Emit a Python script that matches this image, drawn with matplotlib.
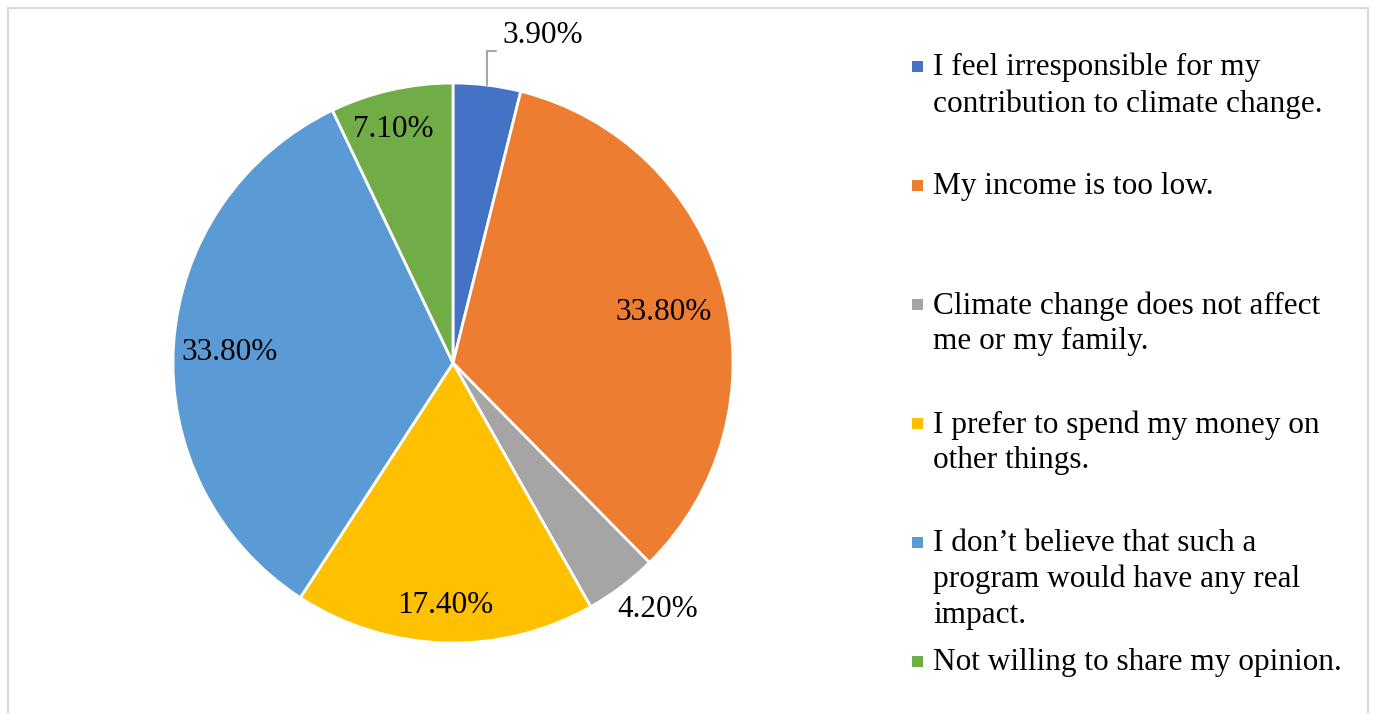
import numpy as np
import matplotlib.pyplot as plt
from matplotlib.patches import Rectangle

categories = [
    "I feel irresponsible for my\ncontribution to climate change.",
    "My income is too low.",
    "Climate change does not affect\nme or my family.",
    "I prefer to spend my money on\nother things.",
    "I don\u2019t believe that such a\nprogram would have any real\nimpact.",
    "Not willing to share my opinion.",
]
values = [3.9, 33.8, 4.2, 17.4, 33.8, 7.1]
colors = ["#4472C4", "#ED7D31", "#A5A5A5", "#FFC000", "#5B9BD5", "#70AD47"]
# label placement: radius (fraction of R) and small angle nudge in degrees
label_r = [None, 0.775, 1.146, 0.865, 0.797, 0.859]
label_dang = [0, -1.7, 2.7, 0, 1.0, 1.6]

plt.rcParams['font.family'] = ['Liberation Serif', 'DejaVu Serif']
W, H = 1375, 713
fig = plt.figure(figsize=(W / 100, H / 100), dpi=100)

cx, cy, R = 453, 363, 280
ax = fig.add_axes([(cx - R) / W, (H - cy - R) / H, 2 * R / W, 2 * R / H])
wedges, _ = ax.pie(values, colors=colors, startangle=90, counterclock=False,
                   wedgeprops=dict(edgecolor='white', linewidth=2.0))
ax.set_xlim(-1, 1)
ax.set_ylim(-1, 1)
ax.set_aspect('equal')
for w in wedges:
    w.set_clip_on(False)

fs = 22.5
for i, w in enumerate(wedges):
    ang = np.deg2rad((w.theta1 + w.theta2) / 2 + label_dang[i])
    txt = "%.2f%%" % values[i]
    if label_r[i] is None:
        ax.annotate(txt, xy=(np.cos(ang), np.sin(ang)), xytext=(0.321, 1.171),
                    ha='center', va='center', fontsize=fs, annotation_clip=False,
                    arrowprops=dict(arrowstyle='-', color='#A6A6A6', lw=1.5,
                                    connectionstyle='angle,angleA=0,angleB=90,rad=0',
                                    relpos=(0, -0.05), shrinkA=3, shrinkB=0))
    else:
        r = label_r[i]
        ax.text(r * np.cos(ang), r * np.sin(ang), txt, ha='center', va='center',
                fontsize=fs, clip_on=False)

# legend
for i, (lab, col) in enumerate(zip(categories, colors)):
    top = 53 + 119 * i
    fig.add_artist(Rectangle((912 / W, 1 - (top + 19) / H), 11 / W, 11 / H,
                             facecolor=col, edgecolor='none', transform=fig.transFigure))
    fig.text(933 / W, 1 - top / H, lab, fontsize=fs, ha='left', va='top',
             linespacing=1.3)

# outer frame
fig.add_artist(Rectangle((8 / W, -0.02), 1360 / W, 1 - 8 / H + 0.02, fill=False,
                         edgecolor='#D9D9D9', linewidth=1.5, transform=fig.transFigure))

fig.savefig('out.png', dpi=100)
